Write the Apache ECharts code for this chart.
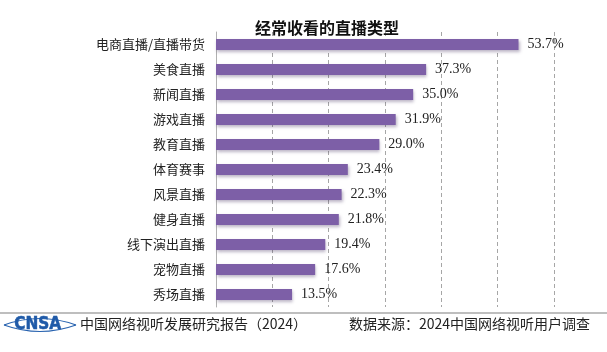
<!DOCTYPE html>
<html>
<head>
<meta charset="utf-8">
<script src="https://cdn.jsdelivr.net/npm/echarts@6/dist/echarts.min.js"></script>
<style>
  html, body { margin: 0; padding: 0; background: #fff; }
  #chart { width: 607px; height: 352px; }
</style>
</head>
<body>
<div id="chart"></div>
<script>
// 类别（从上到下）
const categories = ['电商直播/直播带货', '美食直播', '新闻直播', '游戏直播', '教育直播', '体育赛事',
  '风景直播', '健身直播', '线下演出直播', '宠物直播', '秀场直播'];
// 占比（%）
const shares = [53.7, 37.3, 35.0, 31.9, 29.0, 23.4, 22.3, 21.8, 19.4, 17.6, 13.5];

const chart = echarts.init(document.getElementById('chart'));

// logo 的眼形轮廓
const eyeStyle = { fill: 'none', stroke: '#2a64b0', lineWidth: 1.2 };

const option = {
  animation: false,
  title: {
    text: '经常收看的直播类型',
    left: 322,
    textAlign: 'center',
    top: 15,
    textStyle: { fontFamily: 'Noto Sans CJK SC', fontSize: 16, fontWeight: 'bold', color: '#111' }
  },
  grid: { left: 216, right: 53, top: 32, bottom: 45 },
  xAxis: {
    type: 'value',
    min: 0,
    max: 60,
    interval: 10,
    axisLine: { show: false },
    axisTick: { show: false },
    axisLabel: { show: false },
    splitLine: { show: true, lineStyle: { color: '#a6a6a6', type: [4, 3], width: 1 } }
  },
  yAxis: {
    type: 'category',
    inverse: true,
    data: categories,
    axisLine: { lineStyle: { color: '#b0b0b0', width: 1 } },
    axisTick: { inside: true, length: 4, lineStyle: { color: '#b0b0b0' } },
    axisLabel: { fontFamily: 'Noto Sans CJK SC', fontSize: 13, color: '#222', margin: 11 }
  },
  series: [{
    type: 'bar',
    data: shares,
    barWidth: 11,
    itemStyle: {
      color: '#7d5fa7',
      shadowColor: 'rgba(60,40,90,0.35)',
      shadowBlur: 3,
      shadowOffsetX: 1,
      shadowOffsetY: 2
    },
    label: {
      show: true,
      position: 'right',
      distance: 9,
      formatter: (p) => p.value.toFixed(1) + '%',
      fontFamily: 'Liberation Serif',
      fontSize: 14,
      color: '#222'
    }
  }],
  graphic: [
    { type: 'line', shape: { x1: 0, y1: 313, x2: 607, y2: 313 }, style: { stroke: '#a8a8a8', lineWidth: 1.5 } },
    { type: 'bezierCurve', shape: { x1: 4, y1: 325, cpx1: 40, cpy1: 312, x2: 76, y2: 325 }, style: eyeStyle },
    { type: 'bezierCurve', shape: { x1: 4, y1: 325, cpx1: 40, cpy1: 338, x2: 76, y2: 325 }, style: eyeStyle },
    { type: 'text', left: 14, top: 316, style: { text: 'CNSA', fontFamily: 'DejaVu Sans Condensed', fontSize: 17, fontWeight: 'bold', fill: '#1f5aa8', stroke: '#1f5aa8', lineWidth: 0.5 } },
    { type: 'text', left: 80, top: 317, style: { text: '中国网络视听发展研究报告（2024）', fontFamily: 'Noto Sans CJK SC', fontSize: 14, fill: '#222' } },
    { type: 'text', right: 17, top: 317, style: { text: '数据来源：2024中国网络视听用户调查', fontFamily: 'Noto Sans CJK SC', fontSize: 14, fill: '#222' } }
  ]
};

chart.setOption(option);
</script>
</body>
</html>
